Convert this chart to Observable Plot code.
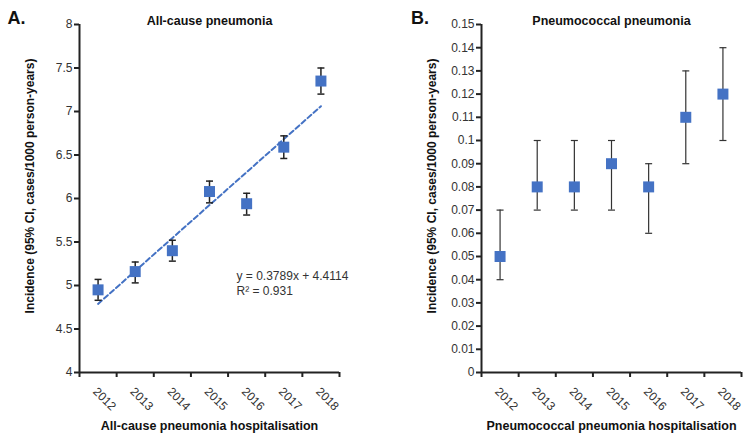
<!DOCTYPE html>
<html>
<head>
<meta charset="utf-8">
<script src="https://cdn.jsdelivr.net/npm/d3@7"></script>
<script src="https://cdn.jsdelivr.net/npm/@observablehq/plot@0.6"></script>
<style>
  body { margin: 0; background: #fff; font-family: "Liberation Sans", Arial, sans-serif; }
  #wrap { display: flex; width: 754px; height: 442px; }
  #wrap svg { display: block; }
</style>
</head>
<body>
<div id="wrap"><div id="a"></div><div id="b"></div></div>
<script>
// ---- data ----
const years = [2012, 2013, 2014, 2015, 2016, 2017, 2018];
const yearBounds = [2011.5, 2012.5, 2013.5, 2014.5, 2015.5, 2016.5, 2017.5, 2018.5];

const allCause = [4.95, 5.16, 5.40, 6.08, 5.94, 6.59, 7.35];
const allCauseLo = [4.83, 5.03, 5.28, 5.95, 5.81, 6.46, 7.20];
const allCauseHi = [5.07, 5.27, 5.52, 6.20, 6.06, 6.72, 7.50];

const pneumo = [0.05, 0.08, 0.08, 0.09, 0.08, 0.11, 0.12];
const pneumoLo = [0.04, 0.07, 0.07, 0.07, 0.06, 0.09, 0.10];
const pneumoHi = [0.07, 0.10, 0.10, 0.10, 0.09, 0.13, 0.14];

const yTicksA = [4, 4.5, 5, 5.5, 6, 6.5, 7, 7.5, 8];
const yTicksB = [0, 0.01, 0.02, 0.03, 0.04, 0.05, 0.06, 0.07, 0.08, 0.09, 0.1, 0.11, 0.12, 0.13, 0.14, 0.15];

const titleA = "All-cause pneumonia";
const titleB = "Pneumococcal pneumonia";
const xLabelA = "All-cause pneumonia hospitalisation";
const xLabelB = "Pneumococcal pneumonia hospitalisation";
const yLabel = "Incidence (95% CI, cases/1000 person-years)";
const equation = "y = 0.3789x + 4.4114\nR\u00B2 = 0.931";

const rowsA = years.map((year, i) => ({year, value: allCause[i], lo: allCauseLo[i], hi: allCauseHi[i]}));
const rowsB = years.map((year, i) => ({year, value: pneumo[i], lo: pneumoLo[i], hi: pneumoHi[i]}));

const blue = "#4472C4";
const font = "Liberation Sans, Arial, sans-serif";

// horizontal cap symbol for error bars
const cap = { draw(ctx) { ctx.moveTo(-3.5, 0); ctx.lineTo(3.5, 0); } };

function panel({rows, yDomain, yTicks, title, letter, letterX, xLabel, marginLeft, marginRight, barStroke, barWidth, extra}) {
  return Plot.plot({
    width: 377,
    height: 442,
    marginLeft,
    marginRight,
    marginTop: 24,
    marginBottom: 70,
    style: { fontFamily: font, background: "#fff", overflow: "visible" },
    x: { type: "linear", domain: [yearBounds[0], yearBounds[yearBounds.length - 1]] },
    y: { type: "linear", domain: yDomain },
    marks: [
      // y axis
      Plot.axisY({ ticks: yTicks, tickFormat: d => String(d), tickSize: 5, tickPadding: 2, strokeWidth: 2, stroke: "#222", fill: "#333", fontSize: 12, label: null }),
      // x axis tick marks at band boundaries
      Plot.axisX({ ticks: yearBounds, tickFormat: () => "", tickSize: 5, strokeWidth: 2, stroke: "#222", label: null }),
      // x tick labels (rotated)
      Plot.axisX({ ticks: years, tickFormat: d => String(d), tickSize: 0, tickRotate: 45, tickPadding: 17, dx: -3, fill: "#333", fontSize: 12, label: null }),
      // axis lines
      Plot.ruleX([yearBounds[0]], { stroke: "#222", strokeWidth: 2 }),
      Plot.ruleY([yDomain[0]], { stroke: "#222", strokeWidth: 2 }),
      ...(extra || []),
      // error bars
      Plot.ruleX(rows, { x: "year", y1: "lo", y2: "hi", stroke: barStroke, strokeWidth: barWidth }),
      Plot.dot(rows, { x: "year", y: "lo", symbol: cap, stroke: barStroke, strokeWidth: barWidth, fill: "none" }),
      Plot.dot(rows, { x: "year", y: "hi", symbol: cap, stroke: barStroke, strokeWidth: barWidth, fill: "none" }),
      // markers
      Plot.dot(rows, { x: "year", y: "value", symbol: "square", r: 6.2, fill: blue, stroke: "none" }),
      // title
      Plot.text([title], { frameAnchor: "top", dy: -4, lineAnchor: "middle", fontWeight: "bold", fontSize: 12.5, fill: "#111" }),
      // panel letter
      Plot.text([letter], { frameAnchor: "top-left", dx: letterX - marginLeft, dy: -6, lineAnchor: "middle", fontWeight: "bold", fontSize: 18, fill: "#111", textAnchor: "middle" }),
      // y label
      Plot.text([yLabel], { frameAnchor: "left", dx: -49, dy: -12.5, rotate: -90, textAnchor: "middle", lineAnchor: "middle", fontWeight: "bold", fontSize: 12, fill: "#111" }),
      // x label
      Plot.text([xLabel], { frameAnchor: "bottom", dy: 53, lineAnchor: "middle", textAnchor: "middle", fontWeight: "bold", fontSize: 12.5, fill: "#111" })
    ]
  });
}

document.getElementById("a").append(panel({
  rows: rowsA, yDomain: [4, 8], yTicks: yTicksA, title: titleA, letter: "A.", letterX: 16, xLabel: xLabelA,
  marginLeft: 79, marginRight: 38, barStroke: "#222", barWidth: 1.5,
  extra: [
    Plot.linearRegressionY(rowsA, { x: "year", y: "value", ci: 0, stroke: blue, strokeWidth: 2, strokeDasharray: "5,3" }),
    Plot.text([equation], { frameAnchor: "top-left", dx: 157, dy: 258, textAnchor: "start", lineAnchor: "middle", lineHeight: 1.25, fontSize: 12, fill: "#333" })
  ]
}));

document.getElementById("b").append(panel({
  rows: rowsB, yDomain: [0, 0.15], yTicks: yTicksB, title: titleB, letter: "B.", letterX: 42.5, xLabel: xLabelB,
  marginLeft: 104, marginRight: 13, barStroke: "#333", barWidth: 1.2
}));
</script>
</body>
</html>
